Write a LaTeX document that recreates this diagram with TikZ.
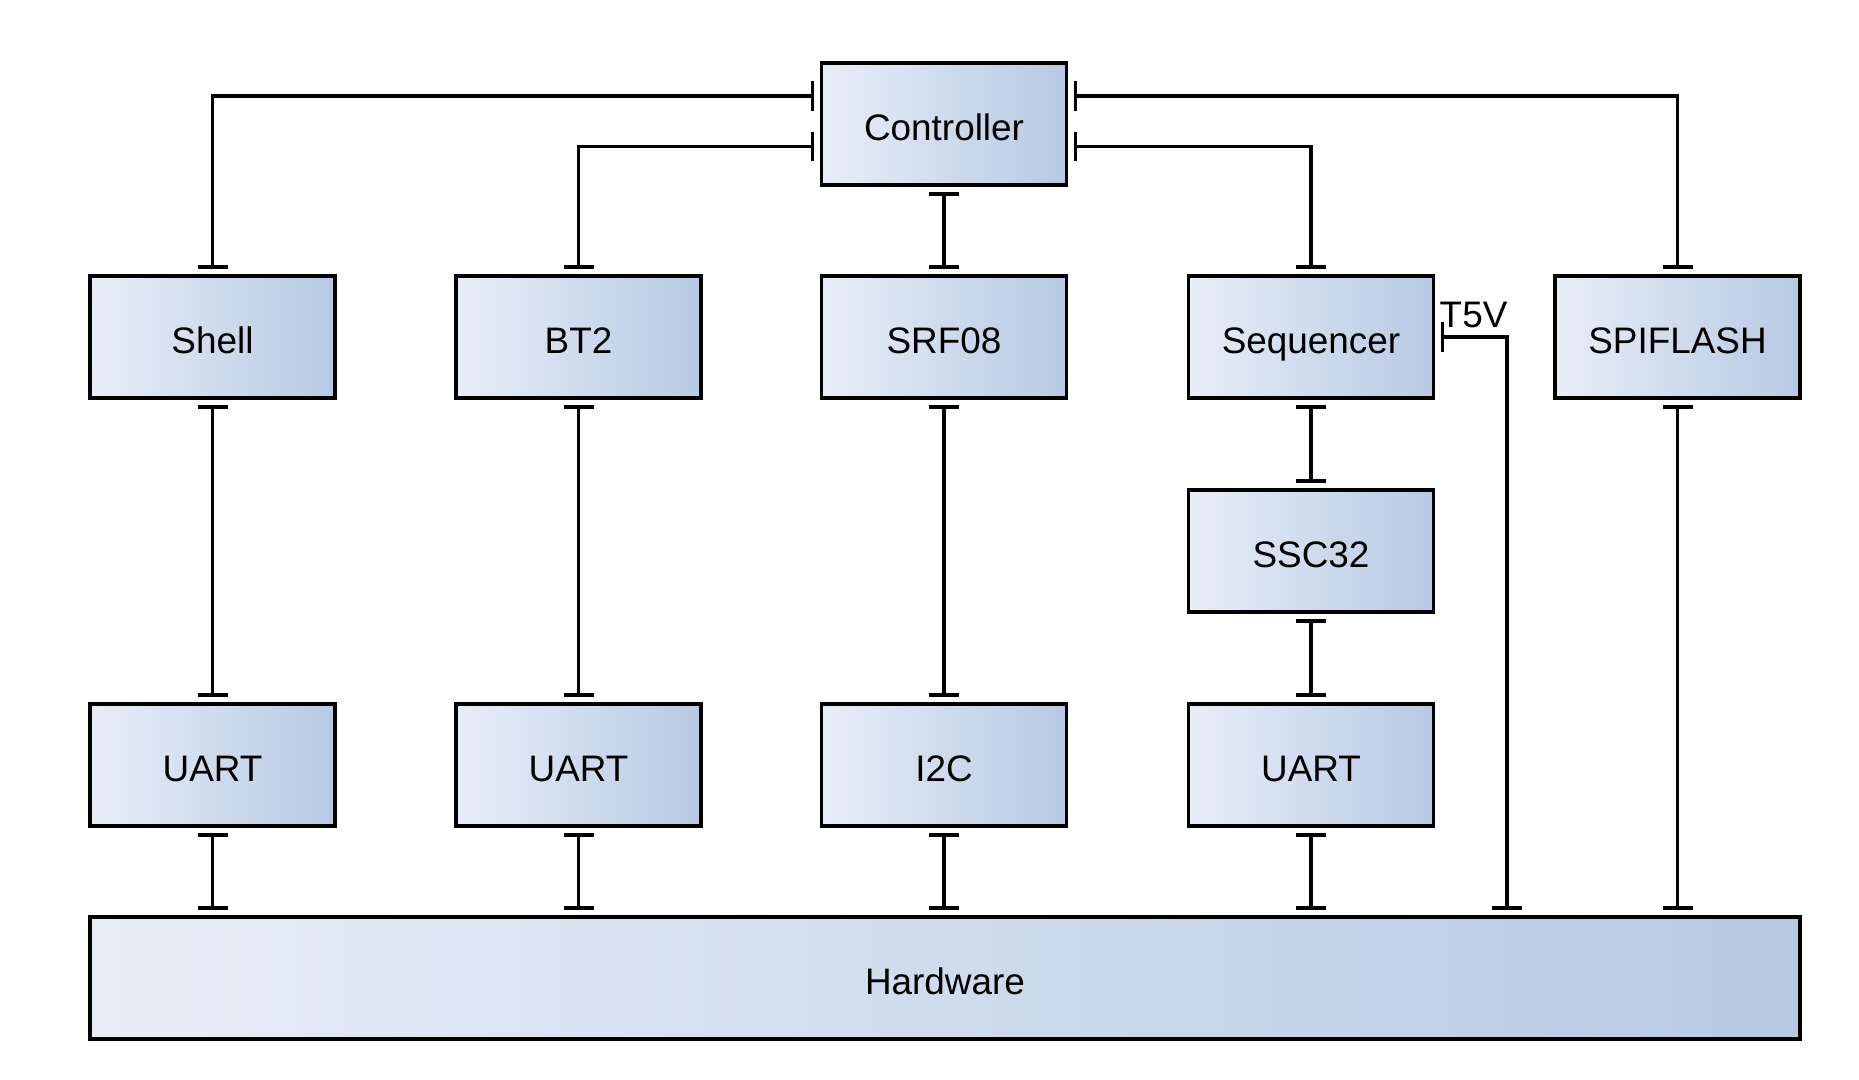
\documentclass[tikz,border=0pt]{standalone}
\usepackage{fontspec}
\setmainfont{Liberation Sans}
\usetikzlibrary{arrows.meta}
\definecolor{boxlight}{HTML}{E8EEF7}
\definecolor{boxdark}{HTML}{B7C9E3}
\tikzset{
block/.style={rectangle, draw, line width=0.075cm, minimum width=4.9cm, minimum height=2.44cm,
  left color=boxlight, right color=boxdark, font=\fontsize{21}{25}\selectfont,
  text height=19pt, text depth=0.6pt},
link/.style={line width=0.065cm, {Bar[width=0.6cm]}-{Bar[width=0.6cm]}, shorten <=0.11cm, shorten >=0.11cm}
}

\begin{document}
\begin{tikzpicture}[x=0.02cm, y=-0.02cm]
\useasboundingbox (0,0) rectangle (1859,1079);

% top
\node[block] (ctrl) at (944,124) {Controller};

% second row
\node[block] (shell) at (212.5,337) {Shell};
\node[block] (bt2) at (578.5,337) {BT2};
\node[block] (srf) at (944,337) {SRF08};
\node[block] (seq) at (1311,337) {Sequencer};
\node[block] (spi) at (1677.5,337) {SPIFLASH};

\node[block] (ssc) at (1311,551) {SSC32};

% drivers
\node[block] (uart1) at (212.5,765) {UART};
\node[block] (uart2) at (578.5,765) {UART};
\node[block] (i2c) at (944,765) {I2C};
\node[block] (uart3) at (1311,765) {UART};

\node[block, minimum width=34.2cm] (hw) at (945,978) {Hardware};

\draw[link] ([yshift=0.56cm]ctrl.west) -| (shell.north);
\draw[link] ([yshift=-0.45cm]ctrl.west) -| (bt2.north);
\draw[link] (ctrl.south) -- (srf.north);
\draw[link] ([yshift=-0.45cm]ctrl.east) -| (seq.north);
\draw[link] ([yshift=0.56cm]ctrl.east) -| (spi.north);

\draw[link] (shell.south) -- (uart1.north);
\draw[link] (bt2.south) -- (uart2.north);
\draw[link] (srf.south) -- (i2c.north);
\draw[link] (seq.south) -- (ssc.north);
\draw[link] (ssc.south) -- (uart3.north);

\draw[link] (uart1.south) -- (uart1.south |- hw.north);
\draw[link] (uart2.south) -- (uart2.south |- hw.north);
\draw[link] (i2c.south) -- (i2c.south |- hw.north);
\draw[link] (uart3.south) -- (uart3.south |- hw.north);
\draw[link] (spi.south) -- (spi.south |- hw.north);

% T5V feed
\coordinate (t5v) at (1507,0);
\draw[link] (seq.east) -| (t5v |- hw.north);
\node[inner sep=0pt, anchor=base west, font=\fontsize{21}{25}\selectfont] (t5vlbl) at ([xshift=0.08cm, yshift=0.2cm]seq.east) {T5V};
\end{tikzpicture}
\end{document}
